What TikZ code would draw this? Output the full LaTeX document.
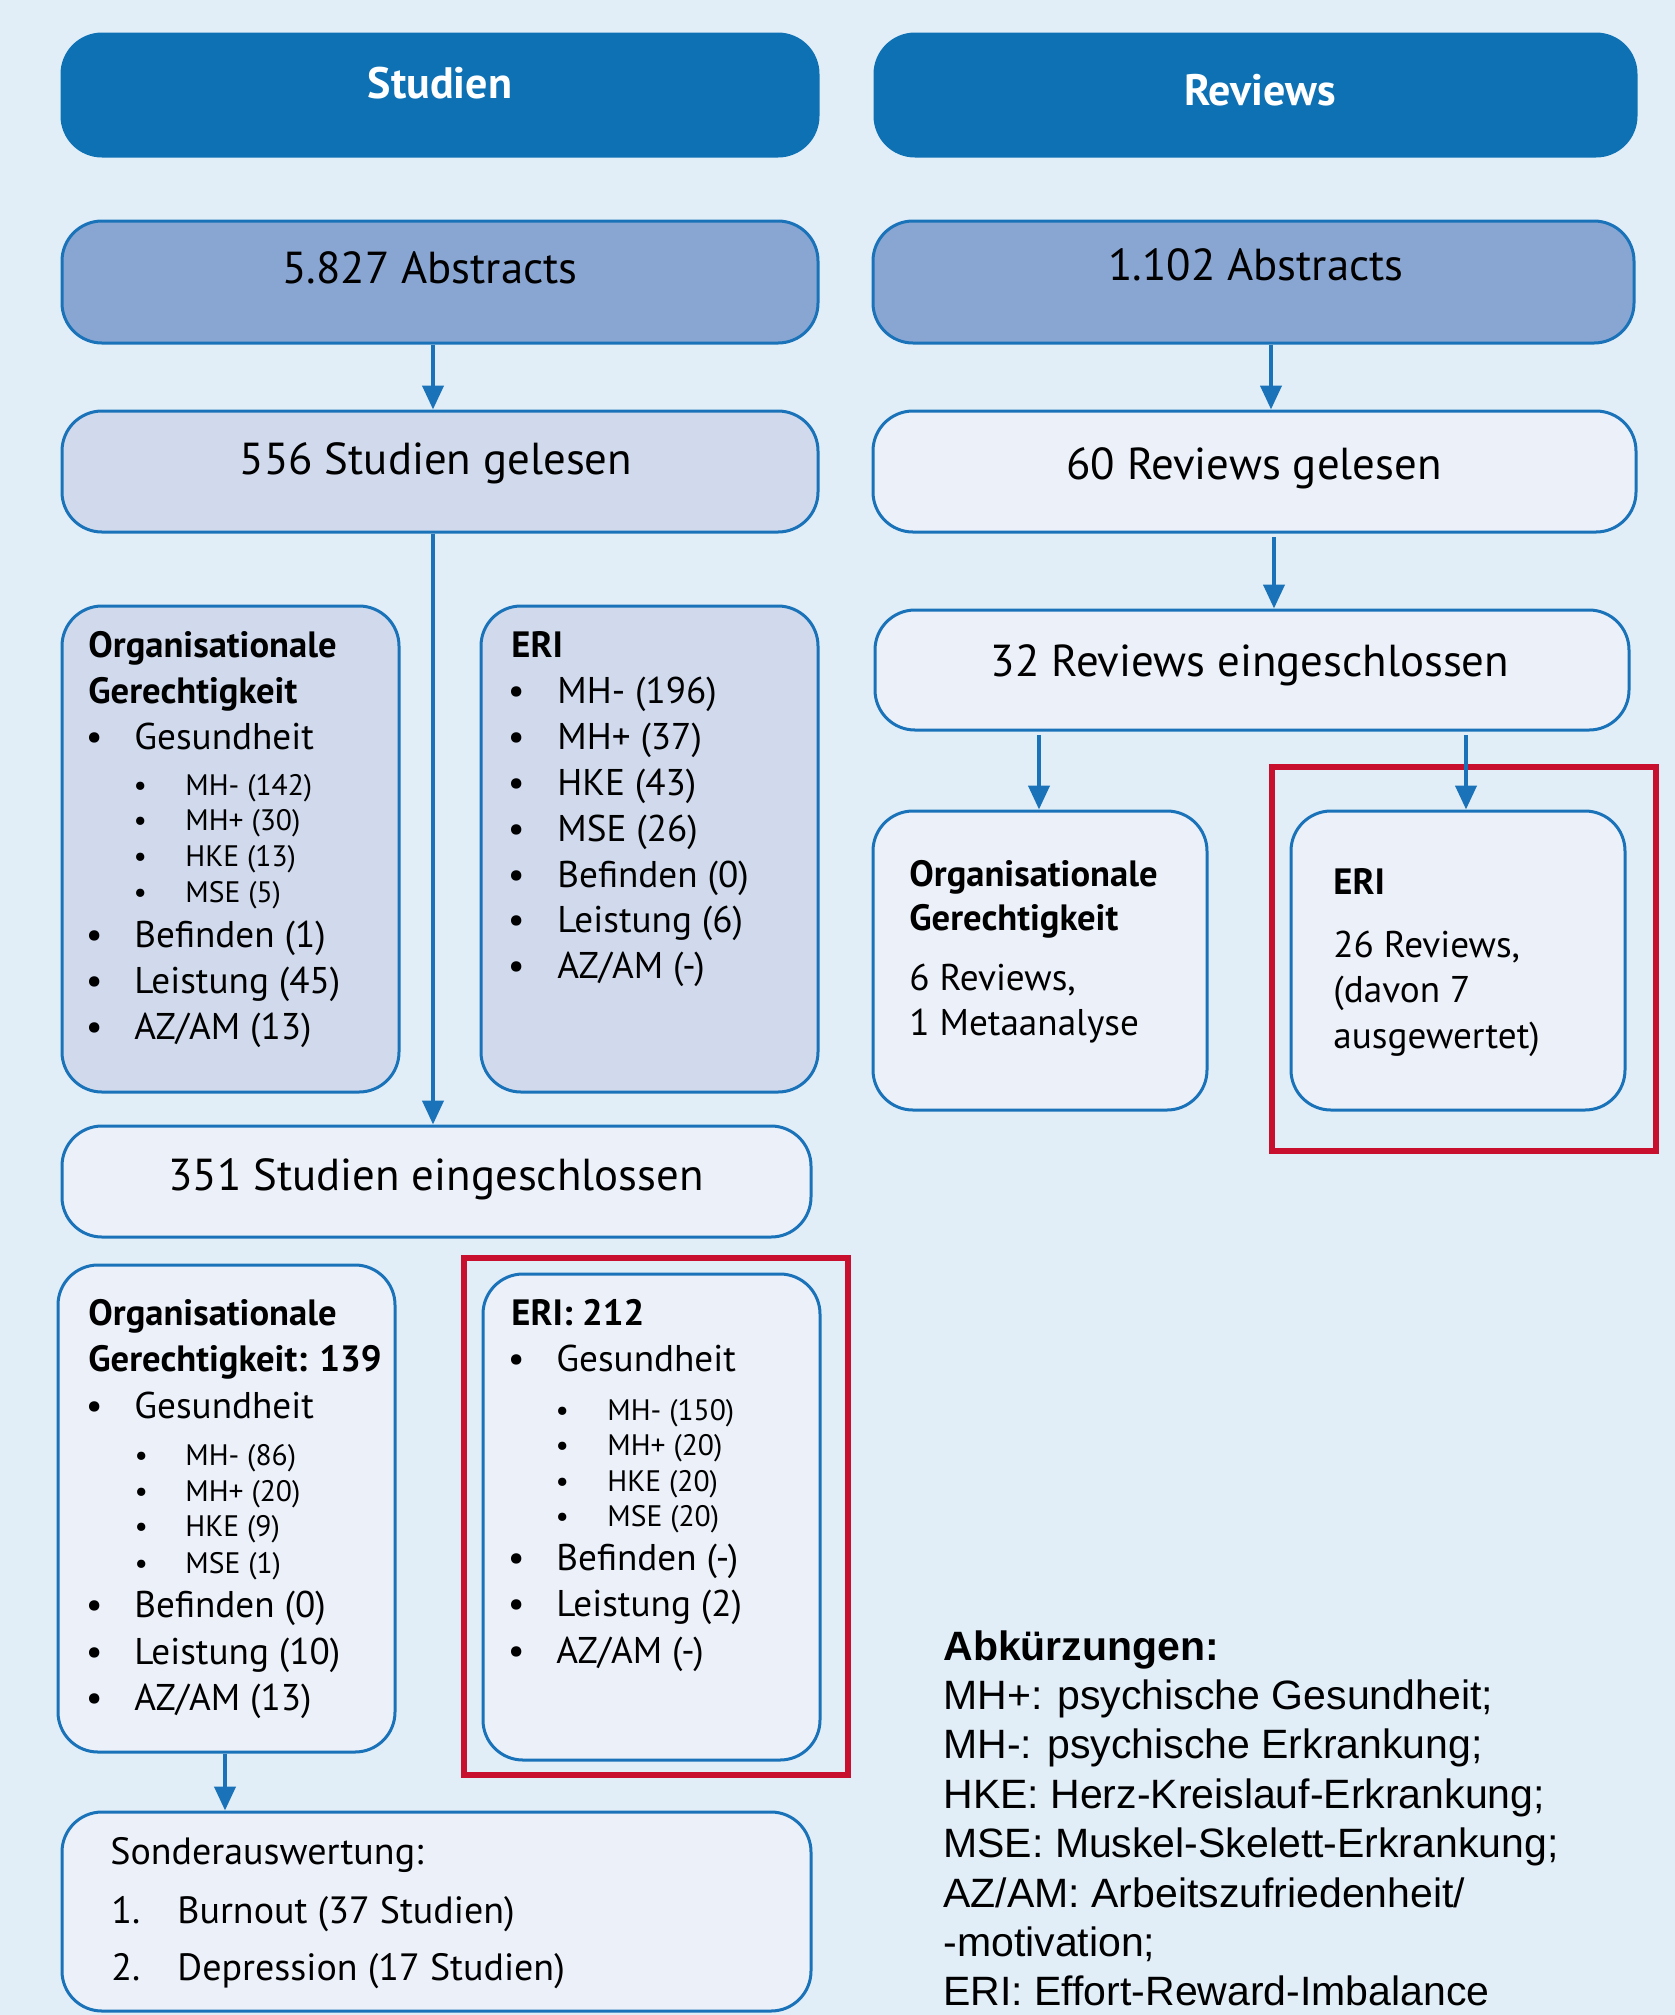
\documentclass[tikz,border=0pt]{standalone}
\usepackage{fontspec}
\setmainfont{PT Sans}
\newfontfamily\legendfont{Liberation Sans}
\usepackage{tikz}
\usetikzlibrary{arrows.meta, fit, positioning}

\definecolor{bgblue}{HTML}{E1EEF8}
\definecolor{headblue}{HTML}{0E71B4}
\definecolor{lineblue}{HTML}{1A72B9}
\definecolor{absblue}{HTML}{89A6D2}
\definecolor{midblue}{HTML}{D0DAEC}
\definecolor{paleblue}{HTML}{ECF0F9}
\definecolor{markred}{HTML}{C80F2E}

\newcommand{\itm}[2]{\makebox[#1]{\textbullet}#2}

\begin{document}
\begin{tikzpicture}[x=0.5pt, y=-0.5pt]
		\tikzstyle{box} = [draw=lineblue, line width=1.5pt, rounded corners=20pt, inner sep=0pt]
		\tikzstyle{hdbox} = [box, draw=headblue, fill=headblue]
		\tikzstyle{hdtxt} = [inner sep=0pt, anchor=base, text=white, font=\bfseries\fontsize{22}{26}\selectfont]
		\tikzstyle{bigtxt} = [inner sep=0pt, anchor=base, font=\fontsize{22.4}{26}\selectfont]
		\tikzstyle{itemtxt} = [inner sep=0pt, anchor=base west, font=\fontsize{18.6}{22}\selectfont]
		\tikzstyle{subtxt} = [itemtxt, font=\fontsize{14.8}{17}\selectfont]
		\tikzstyle{ttltxt} = [itemtxt, font=\bfseries\fontsize{18.3}{22}\selectfont]
		\tikzstyle{legtxt} = [inner sep=0pt, anchor=base west, font=\legendfont\fontsize{20.5}{24}\selectfont]
		\tikzstyle{redframe} = [draw=markred, line width=3.2pt, inner sep=0pt]
		\tikzstyle{arr} = [draw=lineblue, line width=2.1pt, -{Triangle[length=12pt, width=10.5pt]}]
		
		\fill[bgblue] (0,0) rectangle (1675,2015);
		\useasboundingbox (0,0) rectangle (1675,2015);
		
		% Studien
		\node[hdbox, fit={(62,34) (818,156)}] (hdrL) {};
		\node[box, fill=absblue, fit={(62,221) (818,343)}] (absL) {};
		\node[box, fill=midblue, fit={(62,411) (818,532)}] (readL) {};
		\node[box, fill=midblue, fit={(62,606) (399,1092)}] (ogMid) {};
		\node[box, fill=midblue, fit={(481,606) (818,1092)}] (eriMid) {};
		\node[box, fill=paleblue, fit={(62,1126) (811,1237)}] (inclL) {};
		\node[box, fill=paleblue, fit={(58,1265) (395,1752)}] (ogRes) {};
		\node[box, fill=paleblue, fit={(483,1274) (820,1760)}] (eriRes) {};
		\node[box, fill=paleblue, fit={(62,1812) (811,2011)}] (sonder) {};
		\node[redframe, fit={(464,1258) (848,1775)}] (redL) {};
		
		% Reviews
		\node[hdbox, fit={(875,34) (1636,156)}] (hdrR) {};
		\node[box, fill=absblue, fit={(873,221) (1634,343)}] (absR) {};
		\node[box, fill=paleblue, fit={(873,411) (1636,532)}] (readR) {};
		\node[box, fill=paleblue, fit={(875,610) (1629,730)}] (inclR) {};
		\node[box, fill=paleblue, fit={(873,811) (1207,1110)}] (ogRev) {};
		\node[box, fill=paleblue, fit={(1291,811) (1625,1110)}] (eriRev) {};
		\node[redframe, fit={(1272,767) (1656,1151)}] (redR) {};
		
		\coordinate (r2s) at (1274,537);
		\coordinate (r3a) at (1039,735);
		\coordinate (r3b) at (1466,735);
		
		\draw[arr] (absL.south -| 433,0) -- (readL.north -| 433,0);
		\draw[arr] (readL.south -| 433,0) -- (inclL.north -| 433,0);
		\draw[arr] (ogRes.south -| 225,0) -- (sonder.north -| 225,0);
		\draw[arr] (absR.south -| 1271,0) -- (readR.north -| 1271,0);
		\draw[arr] (r2s) -- (inclR.north -| r2s);
		\draw[arr] (r3a) -- (ogRev.north -| r3a);
		\draw[arr] (r3b) -- (eriRev.north -| r3b);
		
		\node[hdtxt] at (440,98) (hdrLt) {Studien};
		\node[hdtxt] at (1260,105) (hdrRt) {Reviews};
		\node[bigtxt] at (430,283) (absLt) {5.827 Abstracts};
		\node[bigtxt] at (1256,280) (absRt) {1.102 Abstracts};
		\node[bigtxt] at (436,474) (readLt) {556 Studien gelesen};
		\node[bigtxt] at (1254,479) (readRt) {60 Reviews gelesen};
		\node[bigtxt] at (1250,676) (inclRt) {32 Reviews eingeschlossen};
		\node[bigtxt] at (436,1190) (inclLt) {351 Studien eingeschlossen};
		
		% 556 gelesen: Aufteilung
		\node[ttltxt] at (88,657) (ogMid1) {Organisationale};
		\node[ttltxt] at (88,703) (ogMid2) {Gerechtigkeit};
		\foreach \y/\t [count=\i] in {749/Gesundheit, 947/Befinden (1), 993/Leistung (45), 1039/{AZ/AM (13)}}
			\node[itemtxt] at (54,\y) (ogMidI\i) {\itm{40pt}{\t}};
		\foreach \y/\t [count=\i] in {795/MH- (142), 830/MH+ (30), 866/HKE (13), 902/MSE (5)}
			\node[subtxt] at (95,\y) (ogMidS\i) {\itm{45pt}{\t}};
		\node[ttltxt] at (511,657) (eriMid1) {ERI};
		\foreach \y/\t [count=\i] in {703/MH- (196), 749/MH+ (37), 795/HKE (43), 841/MSE (26), 887/Befinden (0), 932/Leistung (6), 978/{AZ/AM (-)}}
			\node[itemtxt] at (475,\y) (eriMidI\i) {\itm{41pt}{\t}};
		
		% 351 eingeschlossen
		\node[ttltxt] at (88,1325) (ogRes1) {Organisationale};
		\node[ttltxt] at (88,1371) (ogRes2) {Gerechtigkeit: 139};
		\foreach \y/\t [count=\i] in {1418/Gesundheit, 1617/Befinden (0), 1664/Leistung (10), 1710/{AZ/AM (13)}}
			\node[itemtxt] at (54,\y) (ogResI\i) {\itm{40pt}{\t}};
		\foreach \y/\t [count=\i] in {1465/MH- (86), 1501/MH+ (20), 1536/HKE (9), 1573/MSE (1)}
			\node[subtxt] at (97,\y) (ogResS\i) {\itm{44pt}{\t}};
		\node[ttltxt] at (511,1325) (eriRes1) {ERI: 212};
		\foreach \y/\t [count=\i] in {1371/Gesundheit, 1570/Befinden (-), 1616/Leistung (2), 1663/{AZ/AM (-)}}
			\node[itemtxt] at (476,\y) (eriResI\i) {\itm{40pt}{\t}};
		\foreach \y/\t [count=\i] in {1420/MH- (150), 1455/MH+ (20), 1491/HKE (20), 1526/MSE (20)}
			\node[subtxt] at (517,\y) (eriResS\i) {\itm{45pt}{\t}};
		
		\node[itemtxt, font=\fontsize{19}{22}\selectfont] at (110,1864) (sonder1) {Sonderauswertung:};
		\node[itemtxt, font=\fontsize{19}{22}\selectfont] at (111,1923) (sonderN1) {1.};
		\node[itemtxt, font=\fontsize{19}{22}\selectfont] at (177,1923) (sonder2) {Burnout (37 Studien)};
		\node[itemtxt, font=\fontsize{19}{22}\selectfont] at (111,1980) (sonderN2) {2.};
		\node[itemtxt, font=\fontsize{19}{22}\selectfont] at (177,1980) (sonder3) {Depression (17 Studien)};
		
		% Reviews eingeschlossen
		\node[ttltxt] at (909,886) (ogRev1) {Organisationale};
		\node[ttltxt] at (909,930) (ogRev2) {Gerechtigkeit};
		\node[itemtxt] at (909,990) (ogRev3) {6 Reviews,};
		\node[itemtxt] at (909,1035) (ogRev4) {1 Metaanalyse};
		\node[ttltxt] at (1333,894) (eriRev1) {ERI};
		\node[itemtxt] at (1333,957) (eriRev2) {26 Reviews,};
		\node[itemtxt] at (1333,1002) (eriRev3) {(davon 7};
		\node[itemtxt] at (1333,1048) (eriRev4) {ausgewertet)};
		
		% Abkuerzungen
		\node[legtxt, font=\legendfont\bfseries\fontsize{20.5}{24}\selectfont] at (943,1660) (leg0) {Abkürzungen:};
		\foreach \y/\t [count=\i] in {1709/MH+: psychische Gesundheit;, 1758/MH-: psychische Erkrankung;, 1808/HKE: Herz-Kreislauf-Erkrankung;, 1857/MSE: Muskel-Skelett-Erkrankung;, 1907/{AZ/AM: Arbeitszufriedenheit/}, 1956/-motivation;, 2005/ERI: Effort-Reward-Imbalance}
			\node[legtxt] at (943,\y) (leg\i) {\t};
\end{tikzpicture}
\end{document}
